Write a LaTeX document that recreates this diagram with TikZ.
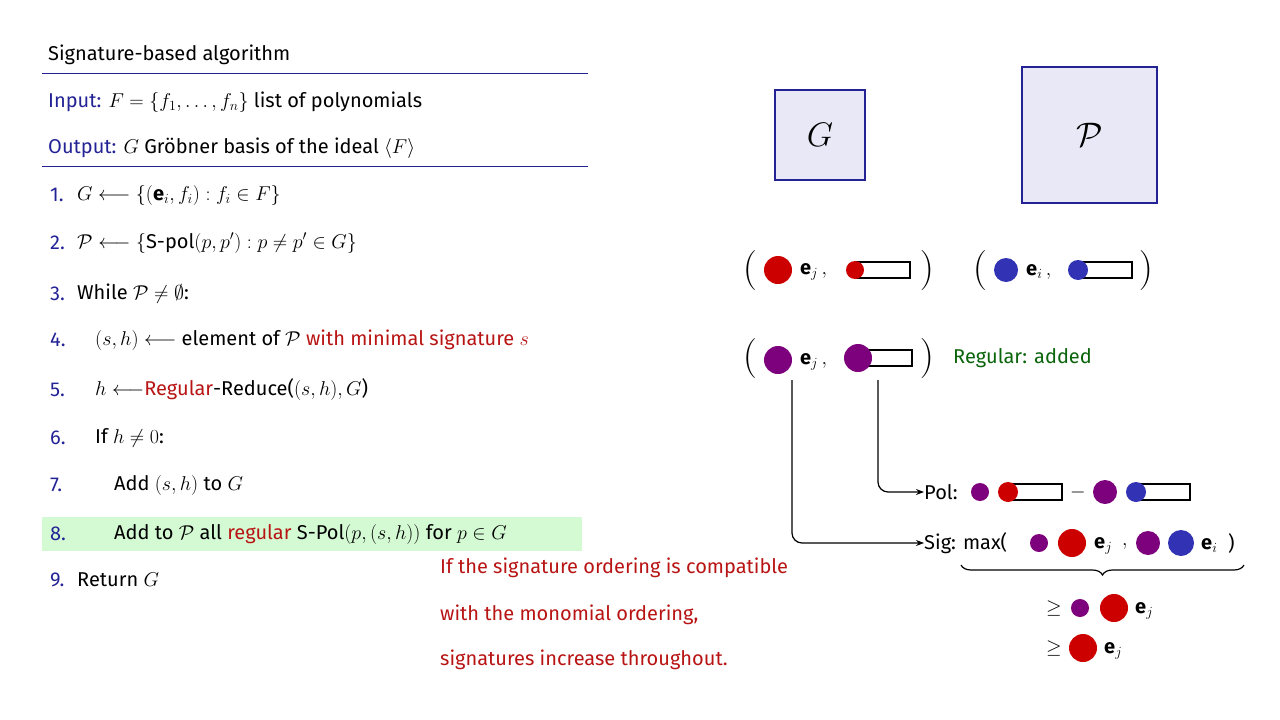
\documentclass[tikz,border=0pt]{standalone}
\usepackage{fix-cm}
\usepackage{amsmath,amssymb}
\usepackage{fontspec}
\setmainfont{Fira Sans}
\usetikzlibrary{decorations.pathreplacing,arrows.meta}
\definecolor{navy}{RGB}{35,35,150}
\definecolor{dred}{RGB}{185,20,20}
\definecolor{cred}{RGB}{205,0,0}
\definecolor{cblue}{RGB}{50,50,180}
\definecolor{cpurp}{RGB}{125,0,125}
\definecolor{dgreen}{RGB}{10,100,10}
\definecolor{lav}{RGB}{232,232,246}
\definecolor{hl}{RGB}{212,250,212}
\tikzset{
 txt/.style={anchor=west,inner sep=0pt,font=\fontsize{20}{24}\selectfont},
 num/.style={txt,text=navy},
 big/.style={inner sep=0pt,font=\fontsize{40}{44}\selectfont},
 bx/.style={draw=navy,line width=1.3pt,fill=lav},
 poly/.style={draw=black,line width=1.2pt,fill=white},
 arr/.style={-{Stealth[length=8pt]},line width=1.2pt,rounded corners=10pt}
}
\newcommand{\dotc}[4]{\fill[#1] (#2,#3) circle (#4);}
\newcommand{\polyb}[5]{\draw[poly] (#2,#3-8) rectangle (#4,#3+8); \fill[#1] (#2,#3) circle (#5);}
\begin{document}
\begin{tikzpicture}[x=1pt,y=-1pt]
\useasboundingbox (0,0) rectangle (1280,720);
\fill[white] (0,0) rectangle (1280,720);
% left algorithm
\fill[hl] (42,517) rectangle (582,551);
\node[txt] (t0) at (48,55) {Signature-based algorithm};
\draw[navy,line width=1pt] (42,73) -- (588,73);
\node[txt] (in) at (48,102) {\textcolor{navy}{Input:} $F=\{f_1,\dots,f_n\}$ list of polynomials};
\node[txt] (out) at (48,148) {\textcolor{navy}{Output:} $G$ Gröbner basis of the ideal $\langle F\rangle$};
\draw[navy,line width=1pt] (42,166) -- (588,166);
\node[num] at (50,195) {1.}; \node[txt] (l1) at (77,195) {$G\longleftarrow\{(\mathbf{e}_i,f_i) : f_i\in F\}$};
\node[num] at (50,243) {2.}; \node[txt] (l2) at (77,243) {$\mathcal{P}\longleftarrow\{\text{S-pol}(p,p') : p\neq p'\in G\}$};
\node[num] at (50,294) {3.}; \node[txt] (l3) at (77,294) {While $\mathcal{P}\neq\emptyset$:};
\node[num] at (50,340) {4.}; \node[txt] (l4) at (95,340) {$(s,h)\longleftarrow$ element of $\mathcal{P}$ \textcolor{dred}{with minimal signature $s$}};
\node[num] at (50,390) {5.}; \node[txt] (l5) at (95,390) {$h\longleftarrow$\textcolor{dred}{Regular}-Reduce($(s,h),G$)};
\node[num] at (50,438) {6.}; \node[txt] (l6) at (95,438) {If $h\neq 0$:};
\node[num] at (50,485) {7.}; \node[txt] (l7) at (114,485) {Add $(s,h)$ to $G$};
\node[num] at (50,534) {8.}; \node[txt] (l8) at (114,534) {Add to $\mathcal{P}$ all \textcolor{dred}{regular} S-Pol$(p,(s,h))$ for $p\in G$};
\node[num] at (50,580) {9.}; \node[txt] (l9) at (77,580) {Return $G$};
\node[txt,text=dred] (r1) at (440,568) {If the signature ordering is compatible};
\node[txt,text=dred] (r2) at (440,615) {with the monomial ordering,};
\node[txt,text=dred] (r3) at (440,660) {signatures increase throughout.};
% boxes
\node[bx,minimum width=90pt,minimum height=90pt,font=\fontsize{34}{38}\selectfont] (G) at (820,135) {$G$};
\node[bx,minimum width=135pt,minimum height=136pt,font=\fontsize{34}{38}\selectfont] (P) at (1089.5,135) {$\mathcal{P}$};
% row 1
\node[big] (p1) at (750,270) {$($};
\dotc{cred}{778}{270}{14}
\node[txt] at (800,272) {$\mathbf{e}_j\,,$};
\polyb{cred}{855}{270}{910}{9}
\node[big] (p2) at (927,270) {$)$};
\node[big] (p3) at (980,270) {$($};
\dotc{cblue}{1006}{270}{12}
\node[txt] at (1026,272) {$\mathbf{e}_i\,,$};
\polyb{cblue}{1078}{270}{1132}{10}
\node[big] (p4) at (1146,270) {$)$};
% row 2
\node[big] (q1) at (750,358) {$($};
\dotc{cpurp}{778}{360}{14}
\node[txt] at (800,362) {$\mathbf{e}_j\,,$};
\polyb{cpurp}{858}{358}{912}{14}
\node[big] (q2) at (927,358) {$)$};
\node[txt,text=dgreen] (reg) at (953,358) {Regular: added};
\coordinate (s1) at (792,380);
\coordinate (s2) at (878,380);
% Pol
\node[txt] (pol) at (924,492) {Pol:};
\dotc{cpurp}{980}{492}{9}
\polyb{cred}{1008}{492}{1062}{10}
\node[txt] at (1070,492) {$-$};
\dotc{cpurp}{1105}{492}{12}
\polyb{cblue}{1136}{492}{1190}{10}
% Sig
\node[txt] (sig) at (924,543) {Sig: max(};
\dotc{cpurp}{1039}{543}{9}
\dotc{cred}{1072}{543}{14}
\node[txt] at (1094,546) {$\mathbf{e}_j$};
\node[txt] at (1122,546) {$,$};
\dotc{cpurp}{1148}{543}{12}
\dotc{cblue}{1181}{543}{13}
\node[txt] at (1201,546) {$\mathbf{e}_i$};
\node[txt] at (1228,543) {)};
\draw[arr] (s2) |- (pol.west);
\draw[arr] (s1) |- (sig.west);
\draw[decorate,decoration={brace,mirror,amplitude=10pt},line width=1.2pt] (961,565) -- (1244,565);
\node[txt] (g1) at (1046,608) {$\geq$};
\dotc{cpurp}{1080}{608}{9}
\dotc{cred}{1114}{608}{14}
\node[txt] at (1135,611) {$\mathbf{e}_j$};
\node[txt] (g2) at (1046,648) {$\geq$};
\dotc{cred}{1083}{648}{14}
\node[txt] at (1104,651) {$\mathbf{e}_j$};
\end{tikzpicture}
\end{document}
